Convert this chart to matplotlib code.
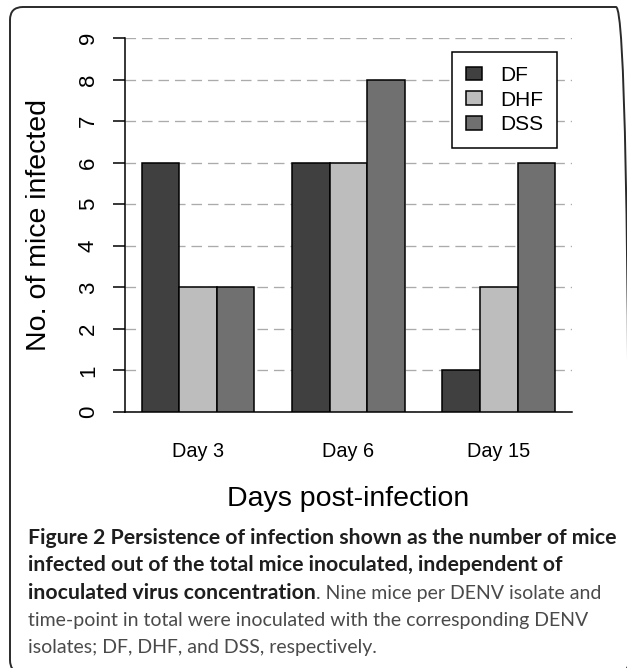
import matplotlib
matplotlib.use('Agg')
import matplotlib.pyplot as plt
import numpy as np
from matplotlib.patches import FancyBboxPatch
from matplotlib.transforms import IdentityTransform, ScaledTranslation

# ---- data ----
days = ['Day 3', 'Day 6', 'Day 15']
series = ['DF', 'DHF', 'DSS']
df_vals = [6, 6, 1]
dhf_vals = [3, 6, 3]
dss_vals = [3, 8, 6]
y_ticks = [0, 1, 2, 3, 4, 5, 6, 7, 8, 9]
colors = ['#404040', '#bdbdbd', '#707070']

y_label = 'No. of mice infected'
x_label = 'Days post-infection'
cap_lines = [
    [('Figure 2 Persistence of infection shown as the number of mice', 'bold')],
    [('infected out of the total mice inoculated, independent of', 'bold')],
    [('inoculated virus concentration', 'bold'), ('. Nine mice per DENV isolate and', 'normal')],
    [('time-point in total were inoculated with the corresponding DENV', 'normal')],
    [('isolates; DF, DHF, and DSS, respectively.', 'normal')],
]

W, H = 627, 668
DPI = 100
fig = plt.figure(figsize=(W / DPI, H / DPI), dpi=DPI)
fig.patch.set_facecolor('white')


def fx(px):
    return px / W


def fy(py):
    return 1 - py / H


PT = 72.0 / DPI  # points per pixel
AX_L, AX_R, AX_T, AX_B = 125, 572, 38, 412
ax = fig.add_axes([fx(AX_L), fy(AX_B), fx(AX_R) - fx(AX_L), fy(AX_T) - fy(AX_B)])

plt.rcParams['font.family'] = ['Liberation Sans', 'DejaVu Sans']

vals = [df_vals, dhf_vals, dss_vals]
n = len(days)
for j, (name, v, c) in enumerate(zip(series, vals, colors)):
    x = np.arange(n) * 4 + 1 + j
    ax.bar(x, v, width=1.0, align='edge', color=c, edgecolor='black',
           linewidth=1.1, label=name, zorder=3)

ax.set_xlim(0.556, 12.45)
ax.set_ylim(0, 9)
ax.set_yticks(y_ticks)
ax.set_yticklabels([str(t) for t in y_ticks], family='Liberation Sans')
ax.yaxis.grid(True, linestyle=(0, (8, 4.5)), color='#ababab', linewidth=0.95, zorder=0)
ax.set_axisbelow(True)
for s in ['top', 'right']:
    ax.spines[s].set_visible(False)
for s in ['left', 'bottom']:
    ax.spines[s].set_linewidth(1.1)
    ax.spines[s].set_color('black')
ax.tick_params(axis='y', direction='out', length=12 * PT, width=1.1, pad=14 * PT,
               labelsize=16, labelrotation=90)
for lab in ax.get_yticklabels():
    lab.set_va('center')
ax.set_xticks([])
ax.tick_params(axis='x', length=0)

# x category labels
centers = np.arange(n) * 4 + 2.5
for cx, d in zip(centers, days):
    tr = ax.get_xaxis_transform() + ScaledTranslation(0, -45 / DPI, fig.dpi_scale_trans)
    ax.text(cx, 0, d, transform=tr, ha='center', va='baseline', fontsize=14.3)

# axis labels
fig.text(fx(39), fy(225), y_label, rotation=90, ha='center', va='center', fontsize=20.5)
fig.text(fx(348.5), fy(506), x_label, ha='center', va='baseline', fontsize=20.5)

# legend
leg = ax.legend(loc='upper right',
                bbox_to_anchor=((557 - AX_L) / (AX_R - AX_L), (AX_B - 52) / (AX_B - AX_T)),
                borderaxespad=0, fontsize=15, handlelength=0.77, handleheight=0.63,
                handletextpad=0.87, labelspacing=0.27, borderpad=0.67,
                fancybox=False, framealpha=1, edgecolor='black')
leg.get_frame().set_linewidth(1.1)

# rounded border
border = FancyBboxPatch((10, H - 673), 621 - 10 + 8, 673 - 7,
                        boxstyle='round,pad=0,rounding_size=13',
                        transform=IdentityTransform(), facecolor='none',
                        edgecolor='#2a2a2a', linewidth=1.4, zorder=10)
fig.patches.append(border)

# caption
cap_font = 'Lato'
fig.canvas.draw()
renderer = fig.canvas.get_renderer()


def fit_size(text, weight, target, base=13.5):
    probe = fig.text(0, 0, text, fontsize=base, fontweight=weight, family=cap_font)
    w = probe.get_window_extent(renderer).width
    probe.remove()
    return base * target / w


bold_size = fit_size(cap_lines[0][0][0], 'bold', 587)
norm_size = fit_size(cap_lines[3][0][0], 'normal', 560)
sizes = {'bold': bold_size, 'normal': norm_size}

baselines = [544, 571, 599, 626, 653]
for line, yb in zip(cap_lines, baselines):
    xpos = 28
    for txt, wt in line:
        col = '#1e1e1e' if wt == 'bold' else '#4a4a4a'
        t = fig.text(fx(xpos), fy(yb), txt, fontsize=sizes[wt], fontweight=wt,
                     family=cap_font, color=col, ha='left', va='baseline')
        xpos += t.get_window_extent(renderer).width

fig.savefig('out.png', dpi=DPI, facecolor='white')
